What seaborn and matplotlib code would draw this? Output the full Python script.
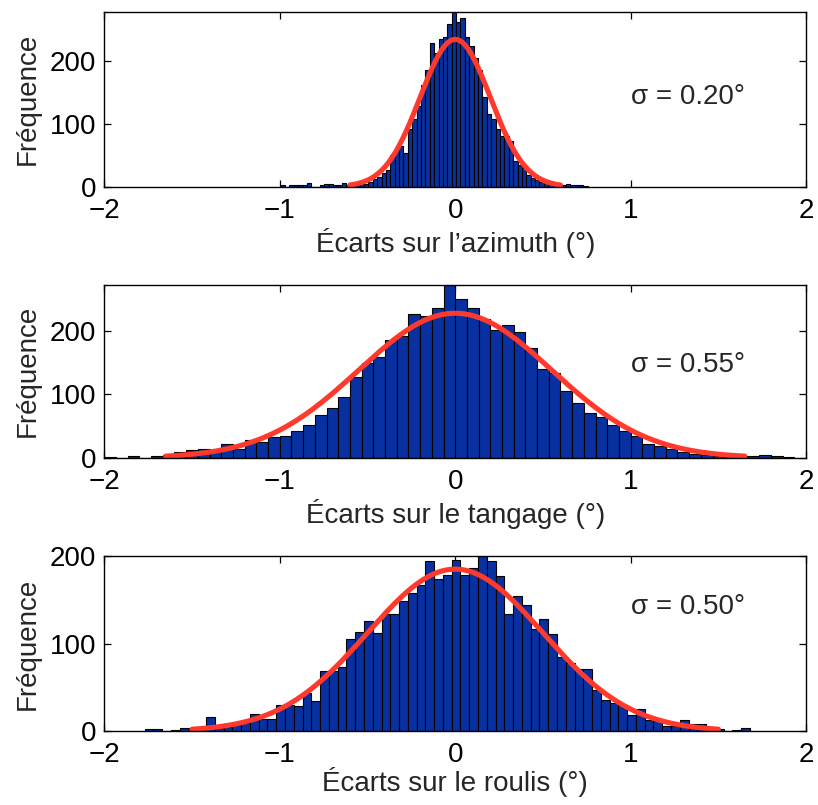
import numpy as np
import pandas as pd
import seaborn as sns
import matplotlib
matplotlib.use("Agg")
import matplotlib.pyplot as plt

# bin counts, left to right
azimuth_counts = [3, 0, 2, 2, 2, 2, 6, 0, 0, 3, 4, 4, 2, 3, 6, 2, 3, 3, 4, 5,
                  8, 12, 15, 21, 27, 51, 56, 64, 53, 91, 107, 128, 162, 186, 229, 213, 234, 237, 259, 278,
                  262, 268, 238, 224, 205, 186, 142, 115, 107, 92, 80, 80, 72, 40, 35, 30, 19, 13, 11, 8,
                  7, 5, 4, 3, 3, 4, 2, 2, 2, 1]
tangage_counts = [1, 0, 3, 0, 3, 4, 9, 12, 14, 12, 21, 14, 28, 25, 33, 34, 42, 52, 68, 79,
                  96, 128, 150, 159, 186, 192, 227, 223, 237, 273, 250, 237, 219, 201, 209, 198, 173, 140, 134, 106,
                  87, 71, 65, 51, 42, 34, 21, 18, 14, 9, 6, 4, 2, 2, 3, 3, 4, 3, 1]
roulis_counts = [2, 2, 0, 1, 3, 1, 2, 16, 3, 5, 7, 9, 19, 14, 14, 30, 30, 29, 44, 34,
                 69, 69, 73, 105, 113, 126, 112, 134, 134, 149, 158, 167, 194, 174, 178, 195, 178, 186, 200, 194,
                 177, 134, 154, 144, 117, 128, 111, 85, 78, 71, 71, 47, 35, 32, 30, 18, 25, 13, 11, 6,
                 6, 13, 8, 8, 5, 2, 0, 1.5, 4]

# first bin edge and bin width of each histogram
first_edges = [-0.995, -2.0, -1.77]
bin_widths = [0.025, 1 / 15, 0.05]

# gaussian fit: sigma and peak height
sigmas = [0.20, 0.55, 0.50]
fit_peaks = [234, 228, 185]

xlabels = ["Écarts sur l’azimuth (°)", "Écarts sur le tangage (°)", "Écarts sur le roulis (°)"]
sigma_texts = ["σ = 0.20°", "σ = 0.55°", "σ = 0.50°"]
sigma_text_y = [143, 146, 142]
xlabel_pads = [3, 3, -1]

bar_color = "#0830a0"
fit_color = "#ff3a2d"
fs = 20

sns.set_style("ticks")
plt.rcParams["font.family"] = ["Liberation Sans", "DejaVu Sans"]
plt.rcParams["axes.linewidth"] = 1.0

fig = plt.figure(figsize=(8.18, 8.05), dpi=100)
boxes = [[0.1275, 0.7681, 0.858, 0.2174],
         [0.1275, 0.4314, 0.858, 0.2149],
         [0.1275, 0.0919, 0.858, 0.2174]]

all_counts = [azimuth_counts, tangage_counts, roulis_counts]
for i, counts in enumerate(all_counts):
    ax = fig.add_axes(boxes[i])
    n = len(counts)
    edges = first_edges[i] + bin_widths[i] * np.arange(n + 1)
    df = pd.DataFrame({"ecart": edges[:-1] + bin_widths[i] / 2,
                       "freq": np.asarray(counts, dtype=float)})
    sns.histplot(data=df, x="ecart", weights="freq", bins=list(edges), color=bar_color,
                 edgecolor="black", linewidth=0.8, alpha=1, ax=ax)
    s = sigmas[i]
    xs = np.linspace(-3 * s, 3 * s, 300)
    ys = fit_peaks[i] * np.exp(-0.5 * (xs / s) ** 2)
    sns.lineplot(x=xs, y=ys, color=fit_color, linewidth=3.7, ax=ax)

    ax.set_xlim(-2, 2)
    ax.set_ylim(0, max(counts))
    ax.set_xticks([-2, -1, 0, 1, 2])
    ax.set_xticklabels(["−2", "−1", "0", "1", "2"])
    ax.set_yticks([0, 100, 200])
    ax.tick_params(direction="in", top=True, right=True, length=5, width=0.9,
                   labelsize=fs, colors="black")
    ax.tick_params(axis="x", pad=8)
    ax.tick_params(axis="y", pad=6)
    for sp in ax.spines.values():
        sp.set_visible(True)
        sp.set_color("black")
    ax.set_xlabel(xlabels[i], fontsize=fs, labelpad=xlabel_pads[i])
    ax.set_ylabel("Fréquence", fontsize=fs, labelpad=6)
    ax.text(1.0, sigma_text_y[i], sigma_texts[i], fontsize=fs, va="center", ha="left")

fig.savefig("out.png", dpi=100)
